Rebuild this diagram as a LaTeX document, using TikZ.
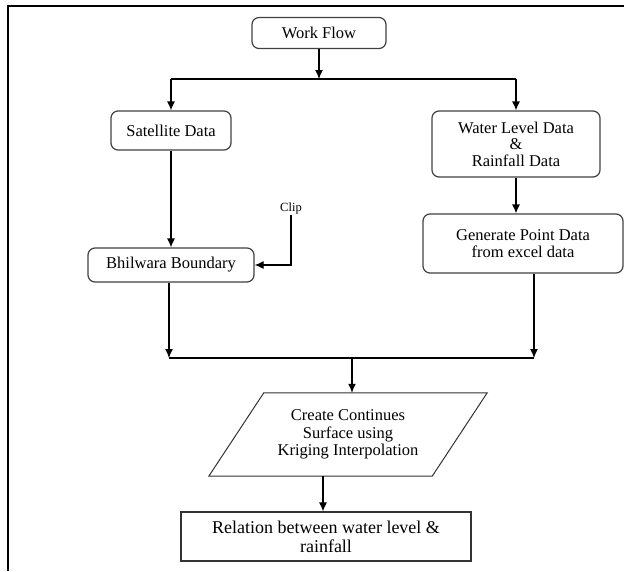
\documentclass[tikz,border=0pt]{standalone}
\usepackage{fontspec}
\setmainfont{Liberation Serif}
\usetikzlibrary{arrows.meta}
\begin{document}
\begin{tikzpicture}[x=1pt,y=-1pt,
  box/.style={draw=black!75, line width=1.2pt, rounded corners=7pt, inner sep=0pt, align=center, font=\fontsize{16.5}{16.5}\selectfont},
  arr/.style={line width=1.2pt, -{Latex[length=9pt,width=8pt]}},
  ln/.style={line width=1.2pt}]
\useasboundingbox (0,0) rectangle (624,571);
\draw[line width=2pt] (8,571) -- (8,6) -- (624,6);
% nodes
\node[box, minimum width=134pt, minimum height=31pt] (wf) at (319,33) {Work Flow};
\node[box, minimum width=120pt, minimum height=39pt] (sat) at (171,130.5) {Satellite Data};
\node[box, minimum width=168pt, minimum height=66pt] (wl) at (516,144) {Water Level Data\\\&\\Rainfall Data};
\node[box, minimum width=200pt, minimum height=59pt] (gp) at (523,243.5) {Generate Point Data\\from excel data};
\node[box, minimum width=166pt, minimum height=34pt] (bb) at (171,265) {Bhilwara Boundary};
\node[inner sep=1pt, font=\fontsize{12.5}{12.5}\selectfont] (clip) at (291,208) {Clip};
\node[inner sep=0pt, minimum width=223pt, minimum height=83pt, align=center, font=\fontsize{16.5}{17.5}\selectfont] (ks) at (348,434.5) {Create Continues\\Surface using\\Kriging Interpolation};
\draw[draw=black!80, line width=1pt] ([xshift=27.5pt]ks.north west) -- ([xshift=27.5pt]ks.north east) -- ([xshift=-27.5pt]ks.south east) -- ([xshift=-27.5pt]ks.south west) -- cycle;
\node[draw=black!80, line width=1.2pt, inner sep=0pt, minimum width=290pt, minimum height=49pt, align=center, font=\fontsize{18}{19}\selectfont] (rel) at (326,536.5) {Relation between water level \&\\rainfall};
% helper coordinates
\coordinate (h1) at (0,79);
\coordinate (h2) at (0,358);
\coordinate (gpo) at (534,0);
\coordinate (bbo) at (169,0);
\coordinate (mid) at (352,358);
\coordinate (relx) at (323,0);
% connectors
\draw[arr] (wf.south) -- (wf.south |- h1);
\draw[ln] (sat.north |- h1) -- (wl.north |- h1);
\draw[arr] (sat.north |- h1) -- (sat.north);
\draw[arr] (wl.north |- h1) -- (wl.north);
\draw[arr] (wl.south) -- (wl.south |- gp.north);
\draw[arr] (sat.south) -- (sat.south |- bb.north);
\draw[arr] (clip.south) |- (bb.east);
\draw[arr] (bbo |- bb.south) -- (bbo |- h2);
\draw[arr] (gpo |- gp.south) -- (gpo |- h2);
\draw[ln] (bbo |- h2) -- (gpo |- h2);
\draw[arr] (mid) -- (mid |- ks.north);
\draw[arr] (relx |- ks.south) -- (relx |- rel.north);
\end{tikzpicture}
\end{document}
